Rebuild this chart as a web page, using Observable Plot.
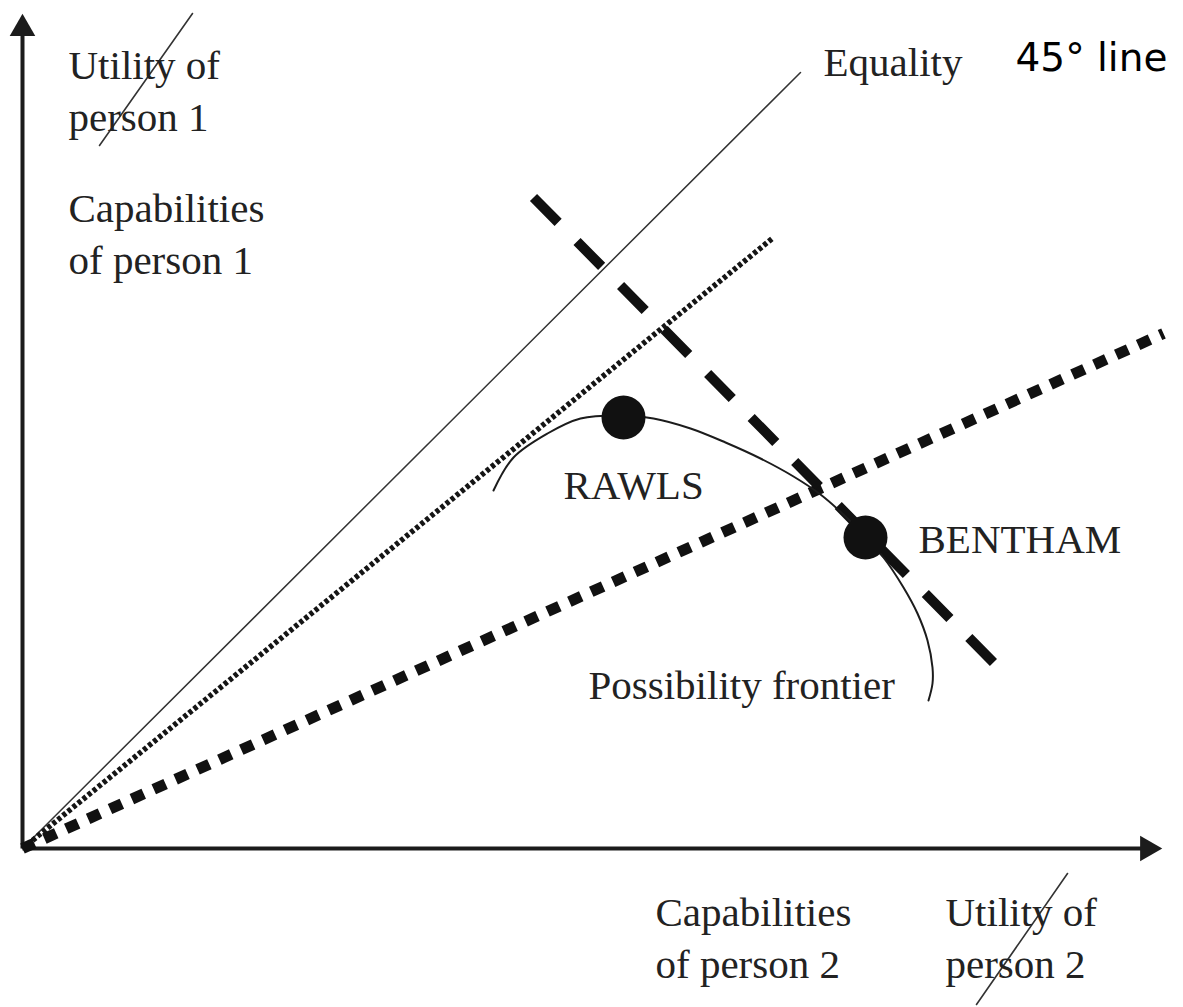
<!DOCTYPE html>
<html>
<head>
<meta charset="utf-8">
<script src="https://cdn.jsdelivr.net/npm/d3@7"></script>
<script src="https://cdn.jsdelivr.net/npm/@observablehq/plot@0.6"></script>
<style>
  html, body { margin: 0; padding: 0; background: #fff; overflow: hidden; }
</style>
</head>
<body>
<div id="chart"></div>
<script>
// Diagram data, in abstract diagram units (origin at the axes' corner)
const axisY = [{x: 0, y: 0}, {x: 0, y: 82.0}];
const axisX = [{x: 0, y: 0}, {x: 112.5, y: 0}];
const arrowHeads = [
  {x: 0, y: 82.0, angle: 0},
  {x: 112.5, y: 0, angle: 90}
];
const equalityLine = [{x: 0, y: 0}, {x: 77.8, y: 77.6}];
const fineDottedRay = [{x: 0, y: 0}, {x: 75.1, y: 61.1}];
const squareDottedRay = [{x: 0, y: 0}, {x: 114.1, y: 51.5}];
const benthamDashed = [{x: 51.1, y: 65.1}, {x: 97.1, y: 18.6}];
const frontier = [
  {x: 47.1, y: 35.8}, {x: 49.1, y: 39.1}, {x: 52.5, y: 41.5}, {x: 55.8, y: 43.0},
  {x: 60.1, y: 43.3}, {x: 63.1, y: 43.0}, {x: 66.8, y: 42.0}, {x: 70.3, y: 40.6},
  {x: 73.8, y: 39.0}, {x: 77.1, y: 37.2}, {x: 79.8, y: 35.4}, {x: 82.3, y: 33.2},
  {x: 84.3, y: 31.1}, {x: 86.1, y: 29.1}, {x: 88.1, y: 26.1}, {x: 89.5, y: 23.5},
  {x: 90.5, y: 20.8}, {x: 91.0, y: 18.1}, {x: 91.0, y: 16.5}, {x: 90.6, y: 14.8}
];
const optima = [
  {name: "RAWLS", x: 60.1, y: 43.1},
  {name: "BENTHAM", x: 84.3, y: 31.1}
];
const serifLabels = [
  {text: "Utility of\nperson 1", x: 4.6, y: 71.8},
  {text: "Capabilities\nof person 1", x: 4.6, y: 57.5},
  {text: "Equality", x: 80.1, y: 77.3},
  {text: "RAWLS", x: 54.1, y: 35.0},
  {text: "BENTHAM", x: 89.6, y: 29.6},
  {text: "Possibility frontier", x: 56.6, y: 15.0},
  {text: "Capabilities\nof person 2", x: 63.3, y: -12.9},
  {text: "Utility of\nperson 2", x: 92.3, y: -12.9}
];
const sansLabels = [{text: "45° line", x: 99.3, y: 77.8}];
const strikeTop = [{x: 17.0, y: 83.5}, {x: 7.7, y: 70.3}];
const strikeBottom = [{x: 104.5, y: -2.5}, {x: 95.4, y: -15.6}];

const ink = "#1c1c1c";

const chart = Plot.plot({
  width: 1183,
  height: 1007,
  margin: 0,
  x: {domain: [-2.2, 116.1], range: [0, 1183], axis: null},
  y: {domain: [-15.9, 84.8], range: [1007, 0], axis: null},
  style: {background: "#fff"},
  marks: [
    // axes
    Plot.line(axisY, {x: "x", y: "y", stroke: ink, strokeWidth: 4, strokeLinecap: "butt"}),
    Plot.line(axisX, {x: "x", y: "y", stroke: ink, strokeWidth: 4, strokeLinecap: "butt"}),
    Plot.dot(arrowHeads, {x: "x", y: "y", symbol: "triangle", r: 9.5, fill: ink, stroke: "none", rotate: "angle"}),
    // rays
    Plot.line(equalityLine, {x: "x", y: "y", stroke: "#333", strokeWidth: 1.5}),
    Plot.line(fineDottedRay, {x: "x", y: "y", stroke: "#151515", strokeWidth: 5.5, strokeDasharray: "4,2.5", strokeLinecap: "butt"}),
    Plot.line(squareDottedRay, {x: "x", y: "y", stroke: "#111", strokeWidth: 11, strokeDasharray: "13,11", strokeLinecap: "butt"}),
    Plot.line(benthamDashed, {x: "x", y: "y", stroke: "#111", strokeWidth: 10, strokeDasharray: "35,26.9", strokeLinecap: "butt"}),
    // frontier
    Plot.line(frontier, {x: "x", y: "y", stroke: ink, strokeWidth: 2, curve: "catmull-rom"}),
    Plot.dot(optima, {x: "x", y: "y", r: 22, fill: "#111", stroke: "none"}),
    // strikethroughs
    Plot.line(strikeTop, {x: "x", y: "y", stroke: "#333", strokeWidth: 1.6}),
    Plot.line(strikeBottom, {x: "x", y: "y", stroke: "#333", strokeWidth: 1.6}),
    // labels
    Plot.text(serifLabels, {
      x: "x", y: "y", text: "text", textAnchor: "start", lineAnchor: "bottom",
      lineHeight: 1.245, fontSize: 41, fontFamily: "Liberation Serif", fill: "#222"
    }),
    Plot.text(sansLabels, {
      x: "x", y: "y", text: "text", textAnchor: "start", lineAnchor: "bottom",
      fontSize: 39, fontFamily: "DejaVu Sans", fill: "#000"
    })
  ]
});

document.getElementById("chart").appendChild(chart);
</script>
</body>
</html>
